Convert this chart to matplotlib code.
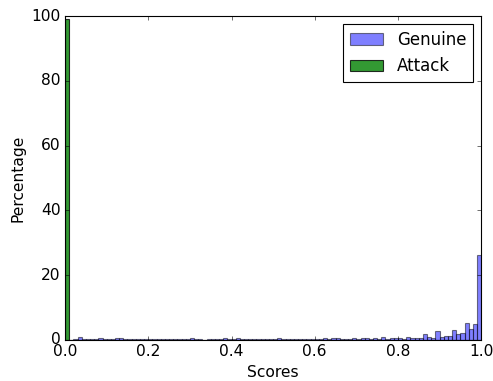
import numpy as np
import matplotlib
matplotlib.use('Agg')
import matplotlib.pyplot as plt

plt.style.use('classic')

# histogram bins: 100 bins on [0, 1]
bin_edges = np.linspace(0, 1, 101)
bin_left = bin_edges[:-1]

# percentage of genuine scores per bin
genuine_pct = [0.0, 0.1, 0.2, 0.8, 0.3, 0.2, 0.4, 0.2, 0.5, 0.3,
               0.3, 0.2, 0.5, 0.6, 0.3, 0.2, 0.3, 0.3, 0.4, 0.2,
               0.3, 0.2, 0.4, 0.2, 0.3, 0.2, 0.4, 0.2, 0.3, 0.2,
               0.6, 0.2, 0.2, 0.1, 0.3, 0.4, 0.2, 0.3, 0.5, 0.2,
               0.2, 0.5, 0.2, 0.2, 0.3, 0.2, 0.3, 0.4, 0.2, 0.3,
               0.3, 0.5, 0.3, 0.2, 0.4, 0.2, 0.3, 0.2, 0.4, 0.3,
               0.3, 0.2, 0.7, 0.3, 0.6, 0.7, 0.4, 0.3, 0.3, 0.6,
               0.4, 0.6, 0.6, 0.3, 0.5, 0.3, 0.8, 0.4, 0.5, 0.7,
               0.5, 0.4, 0.9, 0.5, 0.5, 0.6, 1.8, 0.8, 0.5, 2.6,
               0.8, 1.1, 1.3, 2.9, 1.8, 2.2, 5.2, 3.4, 4.9, 26.2]

# attack scores: nearly all in the first bin
attack_pct = [99.1] + [0.0] * 99

fig = plt.figure(figsize=(493 / 80, 381 / 80), dpi=80, facecolor='white')
ax = fig.add_axes([0.132, 0.108, 0.844, 0.85])

ax.hist(bin_left, bins=bin_edges, weights=genuine_pct, color='b', alpha=0.5, label='Genuine')
ax.hist(bin_left, bins=bin_edges, weights=attack_pct, color='g', alpha=0.8, label='Attack')

ax.set_xlim(0, 1)
ax.set_ylim(0, 100)
ax.set_xlabel('Scores', fontsize=14)
ax.set_ylabel('Percentage', fontsize=14)
ax.tick_params(labelsize=14)
ax.legend(loc='upper right', prop={'size': 15})

fig.savefig('out.png', dpi=80, facecolor='white')
